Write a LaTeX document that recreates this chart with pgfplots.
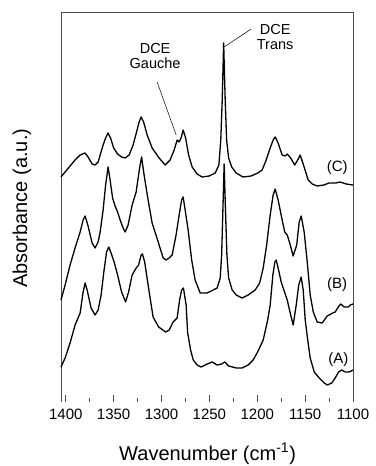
\documentclass[border=0pt]{standalone}
\usepackage{fontspec}
\setmainfont{Liberation Sans}
\usepackage{pgfplots}
\pgfplotsset{compat=1.18}
\usepackage{pgfplotstable}

\pgfplotstableread{
w y
1405 225
1400.7 230
1395.5 236
1390.3 242
1385.0 247
1379.8 249
1376.7 245
1372.5 238
1369.4 237
1366.2 240
1364.1 247
1361.0 257
1358.4 264
1355.8 269
1353.2 264
1350.0 254
1345.9 248
1341.7 245
1338.0 244
1333.8 247
1329.7 257
1325.5 272
1323.4 280
1321.3 285
1318.7 280
1315.0 267
1309.8 254
1302.5 244
1296.2 237
1291.0 242
1286.8 252
1283.7 262
1281.6 260
1279.6 264
1277.4 272
1274.8 264
1271.7 247
1268.0 235
1262.8 228
1257.6 225
1250.2 226
1243.9 229
1240.1 237
1238.1 262
1236.6 302
1235.1 359
1233.5 302
1232.0 262
1229.9 244
1226.7 235
1222.0 229
1214.9 225
1206.5 226
1199.4 229
1194.9 232
1190.7 242
1186.5 254
1183.4 262
1181.3 265
1178.2 259
1174.0 247
1170.8 246
1168.7 248
1165.1 244
1160.9 237
1157.8 242
1155.2 247
1151.7 237
1146.8 222
1142.6 218
1137.4 216
1130.3 217
1125.2 219
1118.1 219
1113.4 220
1107.1 218
1100 217
}\curveC

\pgfplotstableread{
w y
1405 102
1400.7 117
1395.5 137
1390.3 154
1385.0 170
1381.9 182
1379.8 186
1376.7 176
1372.5 159
1369.4 154
1366.2 160
1364.1 170
1361.0 192
1358.4 217
1355.8 235
1353.7 222
1351.1 204
1348.5 196
1345.9 190
1343.2 182
1340.1 174
1338.0 170
1334.9 177
1330.7 197
1326.5 210
1322.9 234
1320.8 245
1318.2 227
1314.0 202
1309.8 179
1304.1 162
1298.3 144
1295.2 142
1292.0 144
1288.9 147
1284.8 167
1281.6 187
1279.0 202
1277.4 205
1275.3 192
1272.2 172
1268.5 142
1264.9 122
1259.6 109
1252.3 109
1246.0 112
1241.9 114
1238.7 124
1237.2 147
1235.9 192
1234.6 238
1233.2 192
1231.7 147
1229.9 124
1226.2 112
1222.0 107
1215.8 104
1209.5 107
1202.2 112
1197.5 119
1193.8 134
1190.2 157
1186.5 187
1183.4 207
1181.3 213
1178.2 202
1174.0 182
1171.3 170
1168.7 167
1166.1 159
1162.5 146
1158.8 157
1156.2 180
1154.1 186
1151.0 170
1147.8 140
1144.7 107
1141.5 90
1137.4 80
1132.1 79
1126.9 86
1121.2 89
1118.6 90
1115.4 95
1112.8 98
1109.2 95
1105.0 95
1102.9 97
1100 98
}\curveB

\pgfplotstableread{
w y
1405 35
1400.7 44
1395.5 59
1390.3 77
1385.0 89
1381.9 110
1379.8 119
1377.7 112
1373.6 94
1369.4 87
1366.2 92
1363.1 107
1360.0 132
1357.4 150
1355.1 155
1352.7 149
1349.5 140
1345.9 127
1341.7 110
1337.5 100
1334.4 110
1330.7 127
1326.5 134
1323.9 137
1321.3 147
1319.9 148
1317.6 140
1314.0 117
1308.8 85
1303.0 75
1295.7 70
1292.0 72
1287.9 80
1283.7 84
1281.1 102
1279.0 112
1277.1 114
1274.3 97
1272.7 69
1269.6 52
1266.9 42
1262.8 37
1258.6 35
1252.3 38
1247.1 40
1241.9 37
1237.2 38
1234.0 40
1229.9 36
1222.0 34
1215.8 34
1209.5 37
1204.3 42
1199.6 50
1193.8 62
1189.1 82
1186.5 97
1183.7 127
1181.6 140
1180.2 142
1178.2 134
1175.0 120
1172.9 114
1168.7 102
1165.1 87
1162.5 77
1159.3 97
1156.7 117
1154.1 125
1152.0 112
1149.9 82
1147.3 62
1144.7 44
1140.5 30
1135.3 24
1130.1 19
1126.9 17
1122.2 19
1118.6 24
1115.1 30
1111.8 32
1108.1 30
1104.0 30
1100 32
}\curveA

\begin{document}
\begin{tikzpicture}
\begin{axis}[
  scale only axis, width=292pt, height=390pt,
  x dir=reverse, xmin=1100, xmax=1405, ymin=0, ymax=390,
  xtick={1100,1150,...,1400}, minor xtick={1125,1175,...,1375},
  ytick=\empty, xtick pos=bottom, tick align=inside,
  major tick length=7pt, minor tick length=3.5pt,
  every tick/.style={black!70, line width=0.8pt},
  axis line style={draw=none},
  /pgf/number format/assume math mode=true,
  /pgf/number format/1000 sep={},
  tick label style={font=\fontsize{15}{18}\selectfont},
  xticklabel style={yshift=-3pt},
  xlabel={Wavenumber (cm\textsuperscript{-1})},
  ylabel={Absorbance (a.u.)},
  label style={font=\fontsize{20}{24}\selectfont},
  xlabel style={at={(axis description cs:0.502,-0.133)}, anchor=center},
  ylabel style={at={(axis description cs:-0.134,0.497)}, anchor=center, rotate=0},
  clip=false,
]
\coordinate (BL) at (axis description cs:0,0);
\coordinate (TR) at (axis description cs:1,1);
\draw[black!70, line width=0.9pt] (axis description cs:0,0) -- (axis description cs:0,1) -- (axis description cs:1,1) -- (axis description cs:1,0);
\addplot[black, line width=1.3pt, line join=round] table[x=w, y=y] {\curveC};
\addplot[black, line width=1.3pt, line join=round] table[x=w, y=y] {\curveB};
\addplot[black, line width=1.3pt, line join=round] table[x=w, y=y] {\curveA};
\node[font=\fontsize{15}{18}\selectfont] at (axis cs:1116.5,234) {(C)};
\node[font=\fontsize{15}{18}\selectfont] at (axis cs:1116.5,117) {(B)};
\node[font=\fontsize{15}{18}\selectfont] at (axis cs:1115.4,42) {(A)};
\node[font=\fontsize{14.5}{15.5}\selectfont, align=center] at (axis cs:1306.7,346) {DCE\\Gauche};
\node[font=\fontsize{14.5}{15.5}\selectfont, align=center] at (axis cs:1181.3,365) {DCE\\Trans};
\draw[black, line width=0.5pt] (axis cs:1304.6,320) -- (axis cs:1284.7,267);
\draw[black, line width=0.5pt] (axis cs:1206.3,373) -- (axis cs:1234.6,355);
\end{axis}
\path (BL) ++(-61pt,-64pt) coordinate (P1);
\path (TR) ++(22pt,12pt) coordinate (P2);
\pgfresetboundingbox
\path (P1) rectangle (P2);
\end{tikzpicture}
\end{document}
